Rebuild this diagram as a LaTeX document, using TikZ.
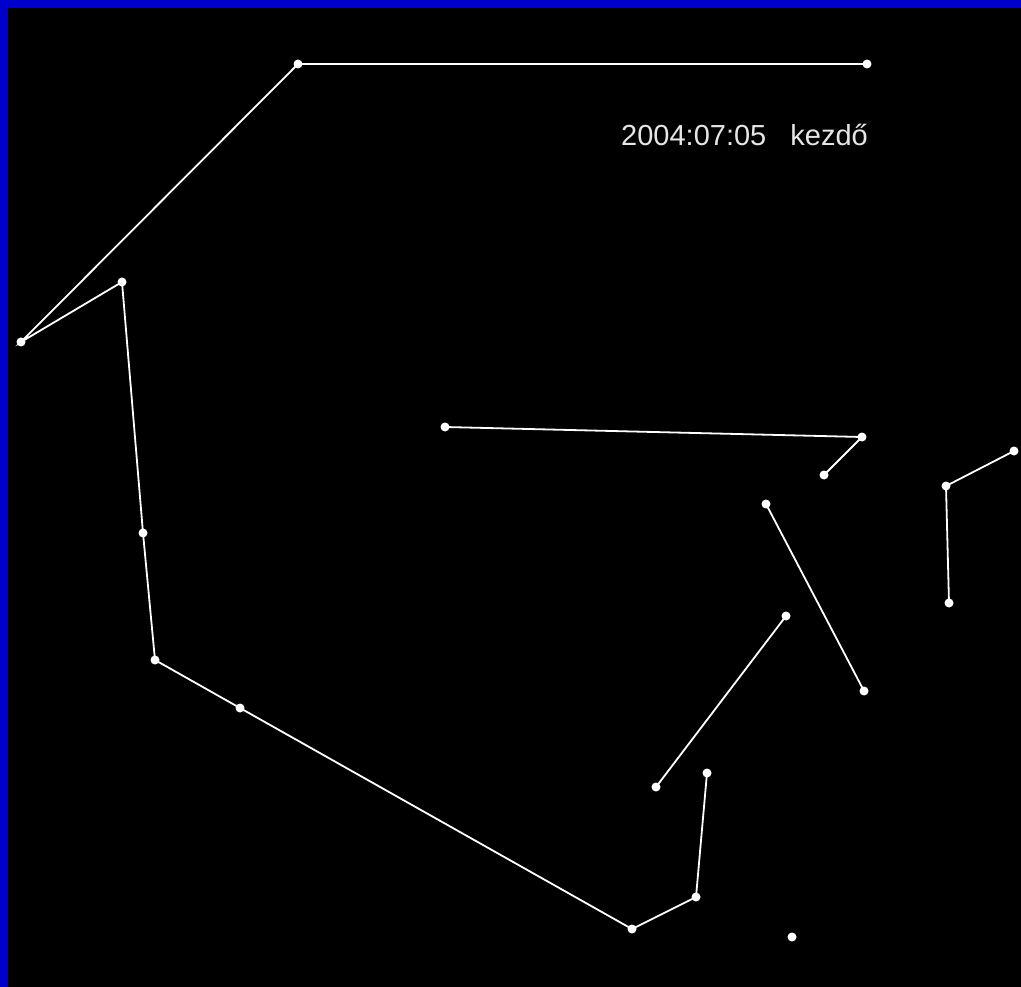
\documentclass[tikz,border=0pt]{standalone}
\usepackage{fontspec}
\setmainfont{Liberation Sans}
\begin{document}
\begin{tikzpicture}[x=1pt,y=-1pt,
  pt/.style={circle,fill=white,inner sep=0pt,minimum size=9pt},
  seg/.style={draw=white,line width=1.8pt}]
\useasboundingbox (0,0) rectangle (1021,987);
\fill[black] (0,0) rectangle (1021,987);
\fill[fill={rgb,255:red,0;green,0;blue,204}] (0,0) rectangle (1021,8);
\fill[fill={rgb,255:red,0;green,0;blue,204}] (0,0) rectangle (8,987);
\node[pt] (A) at (298,64) {};
\node[pt] (B) at (867,64) {};
\node[pt] (C) at (21,342) {};
\node[pt] (D) at (122,282) {};
\node[pt] (E) at (143,533) {};
\node[pt] (F) at (155,660) {};
\node[pt] (G) at (240,708) {};
\node[pt] (H) at (632,929) {};
\node[pt] (I) at (696,897) {};
\node[pt] (J) at (707,773) {};
\node[pt] (K) at (445,427) {};
\node[pt] (L) at (862,437) {};
\node[pt] (M) at (824,475) {};
\node[pt] (N) at (766,504) {};
\node[pt] (O) at (864,691) {};
\node[pt] (P) at (786,616) {};
\node[pt] (Q) at (656,787) {};
\node[pt] (R) at (946,486) {};
\node[pt] (S) at (1014,451) {};
\node[pt] (T) at (949,603) {};
\node[pt] (U) at (792,937) {};
\draw[seg] (A.center) -- (B.center);
\draw[seg] (A.center) -- (C.center) -- (D.center) -- (E.center) -- (F.center) -- (G.center) -- (H.center) -- (I.center) -- (J.center);
\draw[seg] (K.center) -- (L.center) -- (M.center);
\draw[seg] (N.center) -- (O.center);
\draw[seg] (P.center) -- (Q.center);
\draw[seg] (S.center) -- (R.center) -- (T.center);
\node[anchor=base west,inner sep=0pt,text={rgb,255:red,230;green,230;blue,230},font=\fontsize{29}{34}\selectfont] (txt) at (621,146) {2004:07:05\ \ \ kezdő};
\end{tikzpicture}
\end{document}
